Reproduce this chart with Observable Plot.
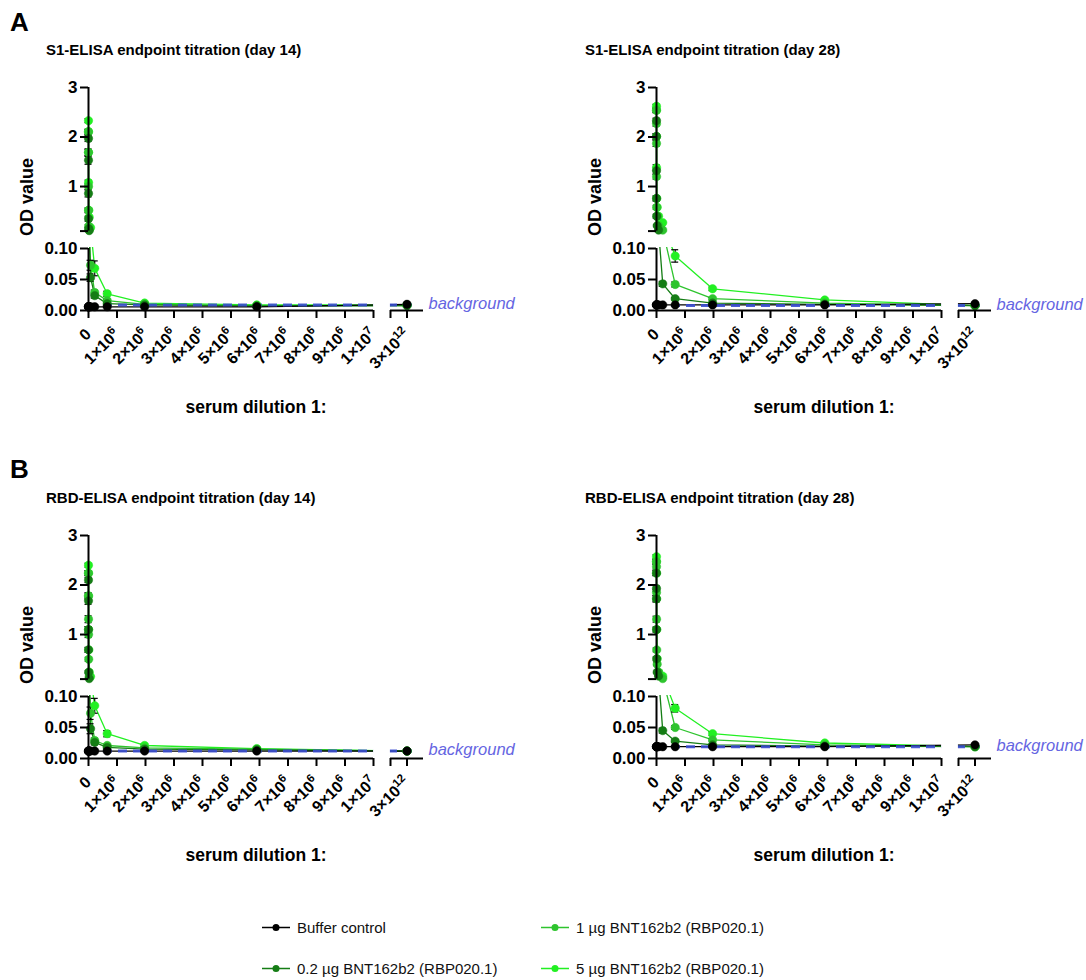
<!DOCTYPE html>
<html><head><meta charset="utf-8">
<script src="https://cdn.jsdelivr.net/npm/d3@7"></script>
<script src="https://cdn.jsdelivr.net/npm/@observablehq/plot@0.6"></script>
<style>
html,body{margin:0;padding:0;background:#fff;overflow:hidden;}
body{font-family:"Liberation Sans",Arial,sans-serif;color:#000;}
#root{position:relative;width:1086px;height:980px;}
.abs{position:absolute;white-space:nowrap;line-height:1;}
.letter{font-weight:bold;font-size:26px;}
.title{font-weight:bold;font-size:15px;}
.ylab{font-weight:bold;font-size:18px;transform:translate(-50%,-50%) rotate(-90deg);}
.xlab{font-weight:bold;font-size:17.5px;transform:translate(-50%,-50%);}
.leg{font-size:15px;display:flex;align-items:center;transform:translateY(-50%);color:#111;}
.leg svg{margin-right:7px;}
</style></head><body><div id="root"></div>
<script>
// ---------- data ----------
const dilutions = [100, 300, 900, 2700, 8100, 24300, 72900, 218700, 656100, 1968300, 5904900, 3e12];
const groups = ["Buffer control", "0.2 µg BNT162b2 (RBP020.1)", "1 µg BNT162b2 (RBP020.1)", "5 µg BNT162b2 (RBP020.1)"];
const groupColors = ["#000000", "#157d15", "#2ec42e", "#22f022"];
const xTickValues = [0, 1e6, 2e6, 3e6, 4e6, 5e6, 6e6, 7e6, 8e6, 9e6, 1e7, 2e12, 3e12];
const xTickLabels = ["0", "1×10⁶", "2×10⁶", "3×10⁶", "4×10⁶", "5×10⁶", "6×10⁶", "7×10⁶", "8×10⁶", "9×10⁶", "1×10⁷", "", "3×10¹²"];
const yLowerTicks = [0, 0.05, 0.1];
const yUpperTicks = [0.100001, 1, 2, 3];

// S1 ELISA day 14
const s1d14Buffer = [0.006, 0.006, 0.006, 0.006, 0.006, 0.006, 0.006, 0.006, 0.006, 0.006, 0.006, 0.010];
const s1d14Low    = [1.97, 1.53, 0.86, 0.35, 0.15, 0.11, 0.053, 0.024, 0.011, 0.009, 0.007, 0.008];
const s1d14Mid    = [2.10, 1.69, 1.00, 0.52, 0.20, 0.12, 0.073, 0.029, 0.016, 0.010, 0.008, 0.008];
const s1d14High   = [2.33, 2.11, 1.69, 1.08, 0.52, 0.38, 0.17, 0.068, 0.027, 0.012, 0.009, 0.009];
const s1d14BufferSd = [0.001, 0.001, 0.001, 0.001, 0.001, 0.001, 0.001, 0.001, 0.001, 0.001, 0.001, 0.001];
const s1d14LowSd    = [0.06, 0.08, 0.07, 0.05, 0.02, 0.01, 0.006, 0.004, 0.002, 0.001, 0.001, 0.001];
const s1d14MidSd    = [0.05, 0.07, 0.06, 0.05, 0.03, 0.01, 0.008, 0.004, 0.002, 0.001, 0.001, 0.001];
const s1d14HighSd   = [0.04, 0.05, 0.06, 0.05, 0.04, 0.03, 0.02, 0.012, 0.004, 0.002, 0.001, 0.001];
const s1d14Background = 0.009;

// S1 ELISA day 28
const s1d28Buffer = [0.009, 0.009, 0.009, 0.009, 0.009, 0.009, 0.009, 0.009, 0.009, 0.009, 0.009, 0.011];
const s1d28Low    = [2.33, 2.01, 1.32, 0.76, 0.40, 0.21, 0.12, 0.043, 0.019, 0.012, 0.010, 0.008];
const s1d28Mid    = [2.54, 2.27, 1.87, 1.20, 0.58, 0.40, 0.21, 0.12, 0.042, 0.019, 0.012, 0.008];
const s1d28High   = [2.62, 2.54, 2.01, 1.38, 0.76, 0.58, 0.40, 0.27, 0.088, 0.035, 0.017, 0.008];
const s1d28BufferSd = [0.001, 0.001, 0.001, 0.001, 0.001, 0.001, 0.001, 0.001, 0.001, 0.001, 0.001, 0.001];
const s1d28LowSd    = [0.05, 0.06, 0.07, 0.05, 0.04, 0.02, 0.01, 0.004, 0.002, 0.001, 0.001, 0.001];
const s1d28MidSd    = [0.04, 0.05, 0.06, 0.05, 0.04, 0.03, 0.02, 0.01, 0.004, 0.002, 0.001, 0.001];
const s1d28HighSd   = [0.04, 0.05, 0.05, 0.06, 0.05, 0.04, 0.03, 0.02, 0.010, 0.003, 0.001, 0.001];
const s1d28Background = 0.008;

// RBD ELISA day 14
const rbdd14Buffer = [0.012, 0.012, 0.012, 0.012, 0.012, 0.012, 0.012, 0.012, 0.012, 0.012, 0.012, 0.012];
const rbdd14Low    = [2.10, 1.68, 1.10, 0.69, 0.24, 0.11, 0.048, 0.026, 0.018, 0.015, 0.014, 0.012];
const rbdd14Mid    = [2.24, 1.78, 1.31, 1.00, 0.50, 0.15, 0.073, 0.029, 0.021, 0.017, 0.015, 0.012];
const rbdd14High   = [2.40, 2.24, 1.78, 1.10, 0.69, 0.24, 0.15, 0.085, 0.040, 0.021, 0.016, 0.012];
const rbdd14BufferSd = [0.001, 0.001, 0.001, 0.001, 0.001, 0.001, 0.001, 0.001, 0.001, 0.001, 0.001, 0.001];
const rbdd14LowSd    = [0.05, 0.07, 0.06, 0.05, 0.03, 0.01, 0.008, 0.004, 0.002, 0.001, 0.001, 0.001];
const rbdd14MidSd    = [0.05, 0.06, 0.07, 0.06, 0.04, 0.02, 0.010, 0.004, 0.002, 0.001, 0.001, 0.001];
const rbdd14HighSd   = [0.04, 0.05, 0.06, 0.06, 0.05, 0.03, 0.02, 0.012, 0.005, 0.002, 0.001, 0.001];
const rbdd14Background = 0.012;

// RBD ELISA day 28
const rbdd28Buffer = [0.019, 0.019, 0.019, 0.019, 0.019, 0.019, 0.019, 0.019, 0.019, 0.019, 0.019, 0.022];
const rbdd28Low    = [2.24, 1.93, 1.72, 1.10, 0.51, 0.24, 0.16, 0.045, 0.028, 0.022, 0.020, 0.019];
const rbdd28Mid    = [2.47, 2.37, 1.85, 1.31, 0.69, 0.40, 0.24, 0.11, 0.050, 0.030, 0.022, 0.019];
const rbdd28High   = [2.57, 2.47, 2.24, 1.72, 1.10, 0.51, 0.24, 0.16, 0.081, 0.040, 0.025, 0.019];
const rbdd28BufferSd = [0.001, 0.001, 0.001, 0.001, 0.001, 0.001, 0.001, 0.001, 0.001, 0.001, 0.001, 0.001];
const rbdd28LowSd    = [0.05, 0.06, 0.06, 0.05, 0.04, 0.02, 0.01, 0.004, 0.002, 0.001, 0.001, 0.001];
const rbdd28MidSd    = [0.04, 0.05, 0.06, 0.06, 0.04, 0.03, 0.02, 0.008, 0.003, 0.002, 0.001, 0.001];
const rbdd28HighSd   = [0.04, 0.05, 0.05, 0.06, 0.05, 0.04, 0.02, 0.01, 0.006, 0.003, 0.001, 0.001];
const rbdd28Background = 0.019;

const panels = [
  {title: "S1-ELISA endpoint titration (day 14)", left: 0, top: 70, series: [s1d14Buffer, s1d14Low, s1d14Mid, s1d14High], sds: [s1d14BufferSd, s1d14LowSd, s1d14MidSd, s1d14HighSd], background: s1d14Background},
  {title: "S1-ELISA endpoint titration (day 28)", left: 568, top: 70, series: [s1d28Buffer, s1d28Low, s1d28Mid, s1d28High], sds: [s1d28BufferSd, s1d28LowSd, s1d28MidSd, s1d28HighSd], background: s1d28Background},
  {title: "RBD-ELISA endpoint titration (day 14)", left: 0, top: 518, series: [rbdd14Buffer, rbdd14Low, rbdd14Mid, rbdd14High], sds: [rbdd14BufferSd, rbdd14LowSd, rbdd14MidSd, rbdd14HighSd], background: rbdd14Background},
  {title: "RBD-ELISA endpoint titration (day 28)", left: 568, top: 518, series: [rbdd28Buffer, rbdd28Low, rbdd28Mid, rbdd28High], sds: [rbdd28BufferSd, rbdd28LowSd, rbdd28MidSd, rbdd28HighSd], background: rbdd28Background}
];

// ---------- drawing ----------
const root = document.getElementById("root");
const BREAK_Y = 0.100001;
const tickLabel = new Map(xTickValues.map((v, i) => [v, xTickLabels[i]]));
const SUP = "⁰¹²³⁴⁵⁶⁷⁸⁹";
const NS = "http://www.w3.org/2000/svg";

function addDiv(cls, text, left, top) {
  const d = document.createElement("div");
  d.className = "abs " + cls;
  d.textContent = text;
  d.style.left = left + "px";
  d.style.top = top + "px";
  root.appendChild(d);
  return d;
}

// render unicode superscript digits as raised tspans (same text, real superscript look)
function styleSuperscripts(svg) {
  svg.querySelectorAll("text").forEach(t => {
    const s = t.textContent;
    const m = s.match(/^(.*?)([⁰¹²³⁴⁵⁶⁷⁸⁹]+)$/);
    if (!m) return;
    while (t.firstChild) t.removeChild(t.firstChild);
    const base = document.createElementNS(NS, "tspan");
    base.textContent = m[1];
    const sup = document.createElementNS(NS, "tspan");
    sup.textContent = [...m[2]].map(c => SUP.indexOf(c)).join("");
    sup.setAttribute("dy", "-0.55em");
    sup.setAttribute("font-size", "72%");
    t.append(base, sup);
  });
}

function lowClamp(d) { const v = d.y - d.sd; return d.y >= BREAK_Y ? Math.max(v, BREAK_Y) : Math.max(v, 0); }
function highClamp(d) { const v = d.y + d.sd; return d.y < 0.1 ? Math.min(v, 0.0999) : Math.min(v, 3); }

function makePanel(p) {
  const rows = [];
  p.series.forEach((vals, gi) => vals.forEach((v, i) => rows.push({gi, x: dilutions[i], y: v, sd: p.sds[gi][i]})));
  const order = [3, 2, 1, 0];
  const marks = [];
  for (const gi of order) {
    marks.push(Plot.line(rows.filter(d => d.gi === gi), {x: "x", y: "y", stroke: groupColors[gi], strokeWidth: 1.3}));
  }
  marks.push(Plot.ruleY([p.background], {y: d => d, x1: 0, x2: 3.4e12, stroke: "#3a4cd0", strokeOpacity: 0.9, strokeWidth: 3, strokeDasharray: "9,6"}));
  // white masks for the axis breaks
  marks.push(Plot.rect([0], {x1: 1.2e10, x2: 1.99e12, y1: 0, y2: 3, fill: "white"}));
  marks.push(Plot.rect([0], {x1: 0, x2: 4e12, y1: 0.1, y2: BREAK_Y, insetLeft: -12, insetTop: 1, insetBottom: 1, fill: "white"}));
  // error bars
  marks.push(Plot.link(rows, {x1: "x", x2: "x", y1: lowClamp, y2: highClamp, stroke: "black", strokeWidth: 1.2}));
  marks.push(Plot.ruleY(rows, {y: highClamp, x1: "x", x2: "x", insetLeft: -3.5, insetRight: -3.5, stroke: "black", strokeWidth: 1.2}));
  marks.push(Plot.ruleY(rows, {y: lowClamp, x1: "x", x2: "x", insetLeft: -3.5, insetRight: -3.5, stroke: "black", strokeWidth: 1.2}));
  for (const gi of order) {
    marks.push(Plot.dot(rows.filter(d => d.gi === gi), {x: "x", y: "y", r: 4.2, fill: groupColors[gi], stroke: groupColors[gi], strokeWidth: 0.5}));
  }
  // axis segments
  marks.push(Plot.ruleX([0], {x: d => d, y1: 0, y2: 0.1, strokeWidth: 2}));
  marks.push(Plot.ruleX([0], {x: d => d, y1: BREAK_Y, y2: 3, strokeWidth: 2}));
  marks.push(Plot.ruleY([0], {y: d => d, x1: 0, x2: 1e7, strokeWidth: 2}));
  marks.push(Plot.ruleY([0], {y: d => d, x1: 2e12, x2: 4e12, strokeWidth: 2}));
  marks.push(Plot.axisY(yLowerTicks, {tickFormat: d3.format(".2f"), tickSize: 8, tickPadding: 3, strokeWidth: 2, label: null, fontSize: 17}));
  marks.push(Plot.axisY(yUpperTicks, {tickFormat: d => d < 0.5 ? "" : d3.format("d")(d), tickSize: 8, tickPadding: 3, strokeWidth: 2, label: null, fontSize: 17}));
  marks.push(Plot.axisX(xTickValues, {tickFormat: d => tickLabel.get(d) ?? "", tickRotate: -45, tickSize: 8, tickPadding: 13, strokeWidth: 2, label: null, fontSize: 16}));
  marks.push(Plot.text([p.background], {x: 4e12, y: d => d, text: () => "background", dx: 5, dy: -1, textAnchor: "start", fill: "#6565e2", fontStyle: "italic", fontWeight: "normal", fontSize: 16.5}));

  const svg = Plot.plot({
    width: 518, height: 380,
    marginLeft: 88, marginRight: 95, marginTop: 17, marginBottom: 140,
    x: {type: "linear", domain: [0, 1e7, 2e12, 4e12], range: [88, 373, 390, 423]},
    y: {type: "linear", domain: [0, 0.1, BREAK_Y, 3], range: [240, 178, 160.6, 17]},
    style: {fontFamily: "'Liberation Sans', Arial, sans-serif", fontWeight: "bold", fontSize: "15px", color: "black", background: "transparent", overflow: "visible"},
    marks
  });
  styleSuperscripts(svg);
  svg.style.position = "absolute";
  svg.style.left = p.left + "px";
  svg.style.top = p.top + "px";
  root.appendChild(svg);

  addDiv("title", p.title, p.left + (p.left ? 17 : 46), p.top - 28);
  addDiv("ylab", "OD value", p.left + 27, p.top + 127);
  addDiv("xlab", "serum dilution 1:", p.left + 256, p.top + 338);
}

panels.forEach(makePanel);
addDiv("letter", "A", 10, 9);
addDiv("letter", "B", 10, 456);

// legend
const legendPos = [[262, 927], [262, 968], [541, 927], [541, 968]];
groups.forEach((g, gi) => {
  const d = document.createElement("div");
  d.className = "abs leg";
  d.style.left = legendPos[gi][0] + "px";
  d.style.top = legendPos[gi][1] + "px";
  d.innerHTML = `<svg width="28" height="10"><line x1="0" y1="5" x2="28" y2="5" stroke="${groupColors[gi]}" stroke-width="1.5"/><circle cx="14" cy="5" r="3.5" fill="${groupColors[gi]}"/></svg><span></span>`;
  d.querySelector("span").textContent = g;
  root.appendChild(d);
});
</script>
</body></html>
